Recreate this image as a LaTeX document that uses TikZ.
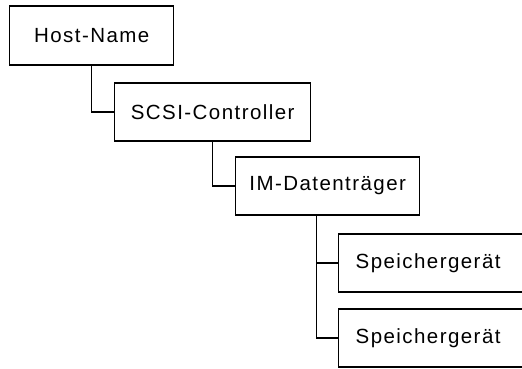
\documentclass[tikz,border=0pt]{standalone}
\usepackage{fontspec}
\setmainfont{Liberation Sans}[LetterSpace=7]
\usetikzlibrary{positioning}

\begin{document}
\begin{tikzpicture}[x=1pt, y=-1pt,
  element/.style={draw=black, fill=white, line width=1.4pt, minimum height=58pt, anchor=west, inner sep=0pt, font=\fontsize{20.5}{24}\selectfont},
  device/.style={element, text width=166pt, align=left, inner xsep=17pt},
  link/.style={draw=black, line width=1.4pt}]
  \useasboundingbox (0,0) rectangle (522,368);
  \clip (0,0) rectangle (522,368);
  % Baum von oben nach unten
  \node [element, minimum width=164pt, minimum height=59pt] (Host) at (9,35.5) {Host-Name};
  \node [element, minimum width=196pt] (Controller) at (114,112) {SCSI-Controller};
  \node [element, minimum width=184pt] (Volume) at (235,186) {IM-Datentr\"ager};
  \node [device] (DeviceA) at (338,263) {Speicherger\"at};
  \node [device] (DeviceB) at (338,338) {Speicherger\"at};
  \draw [link] (Host.south) |- (Controller.west);
  \draw [link] (Controller.south) |- (Volume.west);
  \draw [link] ([xshift=-11pt]Volume.south) |- (DeviceA.west);
  \draw [link] ([xshift=-11pt]Volume.south) |- (DeviceB.west);
\end{tikzpicture}
\end{document}
